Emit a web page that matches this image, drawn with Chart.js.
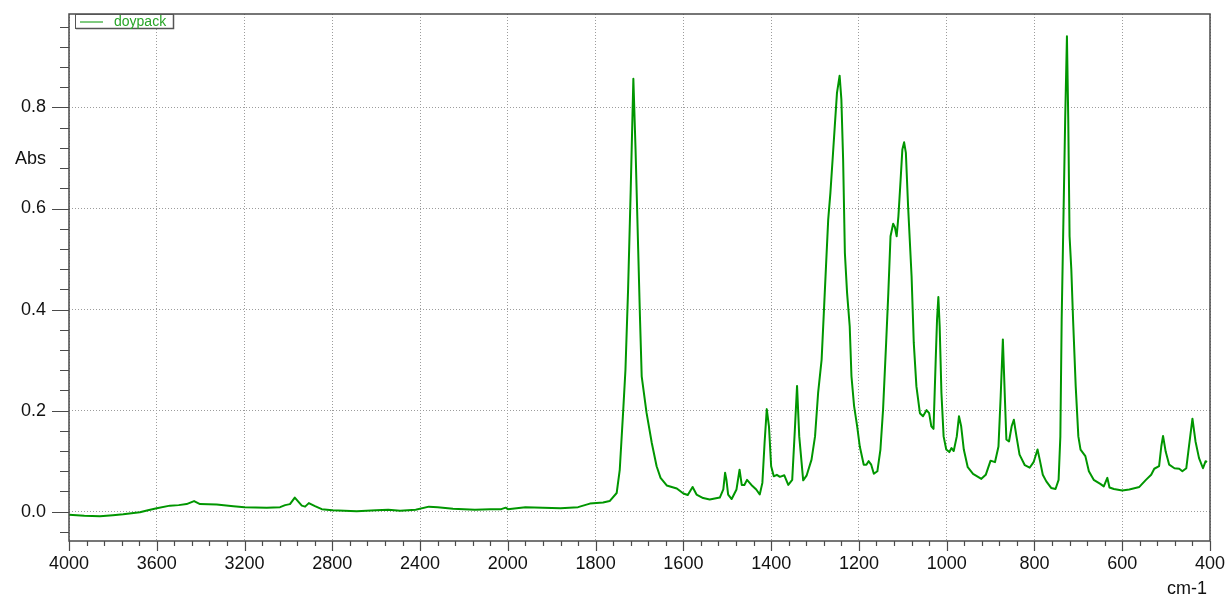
<!DOCTYPE html>
<html>
<head>
<meta charset="utf-8">
<title>doypack</title>
<script src="https://cdn.jsdelivr.net/npm/chart.js@4.4.1/dist/chart.umd.min.js"></script>
<style>
  html, body { margin: 0; padding: 0; background: #fff; }
  #wrap { width: 1229px; height: 597px; }
</style>
</head>
<body>
<div id="wrap"><canvas id="spectrum" width="1229" height="597"></canvas></div>
<script>
const seriesLabel = 'doypack';
const xUnit = 'cm-1';
const yUnit = 'Abs';

const wavenumbers = [
  4000, 3930, 3859, 3800, 3753, 3677, 3640, 3600, 3540, 3500, 3464, 3430, 3403, 3327, 3251, 3200,
  3099, 3038, 3015, 2993, 2971, 2939, 2924, 2907, 2879, 2848, 2800, 2689, 2600, 2545, 2491, 2420,
  2360, 2320, 2250, 2150, 2080, 2030, 2010, 2000, 1960, 1920, 1880, 1840, 1813, 1783, 1768, 1752,
  1745, 1737, 1732, 1726, 1720, 1714, 1709, 1703, 1699, 1695, 1684, 1672, 1661, 1652, 1638, 1615,
  1600, 1590, 1579, 1570, 1555, 1540, 1517, 1509, 1505, 1502, 1498, 1490, 1479, 1472, 1467, 1461,
  1455, 1445, 1434, 1426, 1420, 1415, 1410, 1405, 1400, 1394, 1387, 1380, 1370, 1361, 1352, 1346,
  1341, 1336, 1327, 1319, 1308, 1300, 1293, 1285, 1280, 1275, 1270, 1265, 1259, 1255, 1250, 1244,
  1240, 1236, 1232, 1227, 1221, 1217, 1211, 1204, 1198, 1189, 1183, 1178, 1172, 1166, 1158, 1151,
  1145, 1138, 1133, 1128, 1122, 1118, 1114, 1110, 1105, 1101, 1097, 1093, 1088, 1080, 1075, 1069,
  1061, 1054, 1046, 1040, 1035, 1030, 1025, 1022, 1019, 1016, 1012, 1007, 1001, 994, 989, 984,
  977, 972, 967, 961, 952, 940, 921, 911, 900, 890, 882, 877, 872, 867, 864, 858,
  852, 847, 841, 834, 822, 811, 802, 793, 788, 781, 773, 762, 752, 745, 741, 738,
  734, 730, 726, 723, 720, 716, 712, 706, 700, 695, 684, 676, 665, 650, 642, 634,
  629, 619, 600, 584, 561, 546, 534, 527, 516, 511, 507, 501, 493, 481, 470, 463,
  454, 448, 440, 433, 425, 416, 410, 407
];
const absorbance = [
  -0.006, -0.008, -0.009, -0.007, -0.005, -0.001, 0.003, 0.007, 0.012, 0.013, 0.015, 0.021, 0.015, 0.014, 0.011, 0.009,
  0.008, 0.009, 0.013, 0.015, 0.028, 0.012, 0.010, 0.017, 0.011, 0.005, 0.003, 0.001, 0.003, 0.004, 0.002, 0.004,
  0.010, 0.009, 0.006, 0.004, 0.005, 0.005, 0.008, 0.005, 0.009, 0.008, 0.007, 0.009, 0.016, 0.018, 0.021, 0.037,
  0.083, 0.202, 0.281, 0.440, 0.638, 0.857, 0.717, 0.519, 0.387, 0.268, 0.196, 0.136, 0.090, 0.067, 0.052, 0.046,
  0.036, 0.033, 0.049, 0.034, 0.027, 0.024, 0.028, 0.044, 0.077, 0.064, 0.034, 0.025, 0.044, 0.083, 0.053, 0.053,
  0.063, 0.053, 0.044, 0.034, 0.057, 0.136, 0.203, 0.169, 0.090, 0.070, 0.073, 0.069, 0.072, 0.053, 0.063, 0.162,
  0.249, 0.149, 0.062, 0.072, 0.103, 0.149, 0.235, 0.301, 0.393, 0.486, 0.578, 0.631, 0.710, 0.763, 0.829, 0.863,
  0.816, 0.697, 0.512, 0.433, 0.367, 0.268, 0.209, 0.169, 0.129, 0.093, 0.093, 0.100, 0.093, 0.075, 0.080, 0.123,
  0.202, 0.334, 0.433, 0.545, 0.570, 0.563, 0.545, 0.585, 0.657, 0.717, 0.731, 0.710, 0.605, 0.466, 0.334, 0.248,
  0.195, 0.189, 0.201, 0.195, 0.169, 0.164, 0.301, 0.380, 0.425, 0.367, 0.235, 0.149, 0.123, 0.118, 0.126, 0.120,
  0.149, 0.189, 0.169, 0.123, 0.088, 0.075, 0.065, 0.073, 0.101, 0.098, 0.129, 0.228, 0.341, 0.215, 0.143, 0.139,
  0.169, 0.182, 0.149, 0.113, 0.092, 0.087, 0.098, 0.123, 0.103, 0.073, 0.060, 0.047, 0.045, 0.063, 0.149, 0.380,
  0.578, 0.776, 0.941, 0.776, 0.545, 0.479, 0.380, 0.248, 0.149, 0.123, 0.110, 0.080, 0.063, 0.055, 0.050, 0.067,
  0.048, 0.045, 0.042, 0.044, 0.049, 0.063, 0.073, 0.085, 0.090, 0.129, 0.150, 0.119, 0.093, 0.086, 0.085, 0.080,
  0.086, 0.129, 0.184, 0.139, 0.106, 0.086, 0.100, 0.098
];

const xTicks = [4000, 3600, 3200, 2800, 2400, 2000, 1800, 1600, 1400, 1200, 1000, 800, 600, 400];
const yTicks = [0, 0.2, 0.4, 0.6, 0.8];
const X_MIN = 400, X_MAX = 4000;
const Y_MIN = -0.058, Y_MAX = 0.985;

const GREEN = 'rgb(0,150,0)';
const FONT = '"Liberation Sans", Arial, Helvetica, sans-serif';
const AXIS = '#4a4a4a';

// usual IR layout: everything above 2000 cm-1 is drawn at half scale
const fold = (v) => (v <= 2000 ? v : 2000 + (v - 2000) / 2);
const unfold = (t) => (t <= 2000 ? t : 2000 + (t - 2000) * 2);

class SplitScale extends Chart.LinearScale {
  static id = 'split';
  getPixelForValue(v) {
    if (v === null || isNaN(v)) return NaN;
    const a = fold(this.min), b = fold(this.max);
    return this.getPixelForDecimal((fold(v) - a) / (b - a));
  }
  getValueForPixel(p) {
    const a = fold(this.min), b = fold(this.max);
    return unfold(a + this.getDecimalForPixel(p) * (b - a));
  }
}
Chart.register(SplitScale);

// minor ticks: 40 cm-1 below 2000, 80 cm-1 above; 0.04 Abs
const minorX = [];
for (let v = X_MIN; v < 2000; v += 40) minorX.push(v);
for (let v = 2000; v <= X_MAX; v += 80) minorX.push(v);
const minorY = [];
for (let v = -0.04; v < Y_MAX; v += 0.04) minorY.push(+v.toFixed(2));

const framePlugin = {
  id: 'frame',
  afterDraw(chart) {
    const { ctx, chartArea: a, scales: { x, y } } = chart;
    ctx.save();
    ctx.strokeStyle = AXIS;
    ctx.lineWidth = 1.5;
    ctx.strokeRect(a.left, a.top, a.right - a.left, a.bottom - a.top);

    ctx.lineWidth = 1.2;
    ctx.beginPath();
    minorX.forEach((v) => {
      const px = Math.round(x.getPixelForValue(v)) + 0.5;
      const len = xTicks.includes(v) ? 10 : 5;
      ctx.moveTo(px, a.bottom);
      ctx.lineTo(px, a.bottom + len);
    });
    minorY.forEach((v) => {
      const py = Math.round(y.getPixelForValue(v)) + 0.5;
      const major = yTicks.some((t) => Math.abs(t - v) < 1e-6);
      ctx.moveTo(a.left, py);
      ctx.lineTo(a.left - (major ? 17 : 9), py);
    });
    ctx.stroke();

    // axis names
    ctx.fillStyle = '#111';
    ctx.font = `18px ${FONT}`;
    ctx.textAlign = 'right';
    ctx.textBaseline = 'middle';
    ctx.fillText(yUnit, 46, 159);
    ctx.textAlign = 'left';
    ctx.textBaseline = 'alphabetic';
    ctx.fillText(xUnit, 1167, 594);

    // legend box in the top left corner
    const lx = 75, ly = a.top, lw = 98, lh = 14;
    ctx.fillStyle = '#fff';
    ctx.fillRect(lx, ly, lw, lh);
    ctx.strokeStyle = '#555';
    ctx.lineWidth = 1;
    ctx.strokeRect(lx + 0.5, ly + 0.5, lw, lh);
    ctx.lineWidth = 1.5;
    ctx.beginPath();
    ctx.moveTo(lx + lw + 0.5, ly + 1);
    ctx.lineTo(lx + lw + 0.5, ly + lh + 0.5);
    ctx.lineTo(lx + 1, ly + lh + 0.5);
    ctx.stroke();
    ctx.strokeStyle = GREEN;
    ctx.lineWidth = 1;
    ctx.beginPath();
    ctx.moveTo(lx + 5, ly + 8);
    ctx.lineTo(lx + 28, ly + 8);
    ctx.stroke();
    ctx.fillStyle = 'rgb(40,165,40)';
    ctx.font = `14px ${FONT}`;
    ctx.textBaseline = 'middle';
    ctx.fillText(seriesLabel, lx + 39, ly + 8);
    ctx.restore();
  },
};

const points = wavenumbers.map((w, i) => ({ x: w, y: absorbance[i] }));

// tick marks are drawn by the plugin; the invisible tickLength only spaces the labels
const hiddenGrid = (len) => ({
  color: '#9c9c9c',
  lineWidth: 1,
  drawTicks: true,
  tickLength: len,
  tickColor: 'rgba(0,0,0,0)',
});

new Chart(document.getElementById('spectrum'), {
  type: 'line',
  data: {
    datasets: [
      {
        label: seriesLabel,
        data: points,
        borderColor: GREEN,
        borderWidth: 2,
        borderJoinStyle: 'round',
        pointRadius: 0,
        tension: 0,
        fill: false,
      },
    ],
  },
  options: {
    responsive: false,
    animation: false,
    events: [],
    layout: { padding: { top: 14, right: 19, left: 0, bottom: 0 } },
    plugins: { legend: { display: false }, tooltip: { enabled: false } },
    scales: {
      x: {
        type: 'split',
        reverse: true,
        min: X_MIN,
        max: X_MAX,
        afterBuildTicks: (s) => (s.ticks = xTicks.map((value) => ({ value }))),
        afterFit: (s) => (s.height = 56),
        grid: hiddenGrid(12),
        border: { display: false, dash: [1, 2] },
        ticks: {
          autoSkip: false,
          maxRotation: 0,
          padding: 0,
          color: '#111',
          font: { family: FONT, size: 18 },
          callback: (v) => String(v),
        },
      },
      y: {
        min: Y_MIN,
        max: Y_MAX,
        afterBuildTicks: (s) => (s.ticks = yTicks.map((value) => ({ value }))),
        afterFit: (s) => (s.width = 69),
        grid: hiddenGrid(23),
        border: { display: false, dash: [1, 2] },
        ticks: {
          padding: 0,
          color: '#111',
          font: { family: FONT, size: 18 },
          callback: (v) => v.toFixed(1),
        },
      },
    },
  },
  plugins: [framePlugin],
});
</script>
</body>
</html>
